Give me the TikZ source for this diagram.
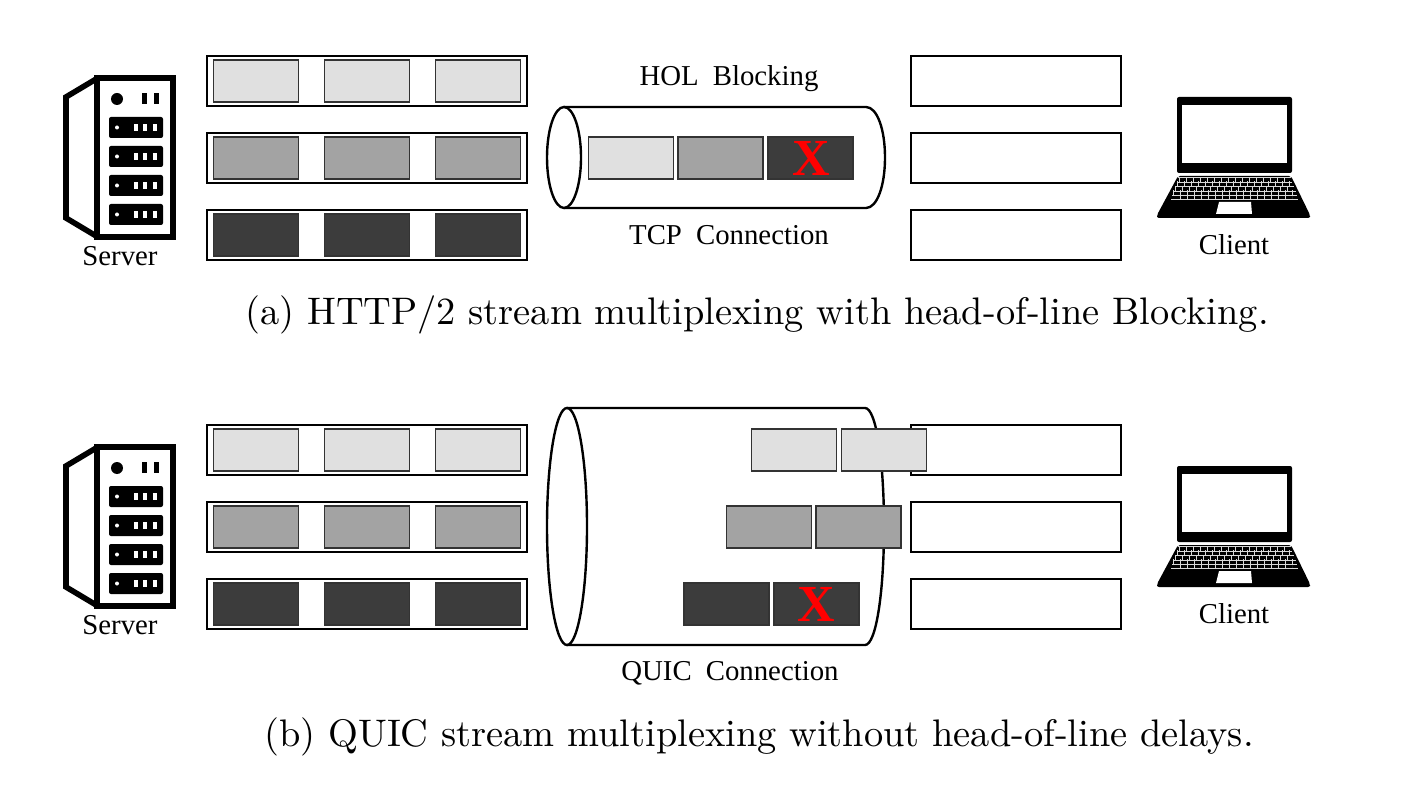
\documentclass[tikz,border=0pt]{standalone}
\usepackage{fontspec}
\newfontfamily\labelfont{Liberation Serif}
\newfontfamily\widelabelfont[WordSpace=1.4]{Liberation Serif}
\newfontfamily\captionfont[Extension=.otf]{lmroman10-regular}
\usepackage{tikz}
\usetikzlibrary{positioning,calc}

\definecolor{lightblock}{HTML}{E0E0E0}
\definecolor{midblock}{HTML}{A3A3A3}
\definecolor{darkblock}{HTML}{3C3C3C}

\tikzset{
  serverpic/.pic={
    \draw[line width=2.8pt,fill=white] (97,78.5) -- (66,97) -- (66,218) -- (97,236.5) ;
    \draw[line width=2.8pt,fill=white] (97,78) rectangle (173,237) ;
    \fill[black] (117,99) circle (3pt) ;
    \fill[black] (142,93) rectangle (147,104) ;
    \fill[black] (154,93) rectangle (159,104) ;
    \fill[black,rounded corners=1pt] (109,117) rectangle (163,138) ;
    \fill[black,rounded corners=1pt] (109,146) rectangle (163,167) ;
    \fill[black,rounded corners=1pt] (109,175) rectangle (163,196) ;
    \fill[black,rounded corners=1pt] (109,204) rectangle (163,225) ;
    \fill[white] (117,127.5) circle (1pt) ;
    \fill[white] (117,156.5) circle (1pt) ;
    \fill[white] (117,185.5) circle (1pt) ;
    \fill[white] (117,214.5) circle (1pt) ;
    \draw[white,line width=3.5pt,dash pattern=on 2pt off 2.7pt] (134,127.5) -- (158,127.5) ;
    \draw[white,line width=3.5pt,dash pattern=on 2pt off 2.7pt] (134,156.5) -- (158,156.5) ;
    \draw[white,line width=3.5pt,dash pattern=on 2pt off 2.7pt] (134,185.5) -- (158,185.5) ;
    \draw[white,line width=3.5pt,dash pattern=on 2pt off 2.7pt] (134,214.5) -- (158,214.5) ;
  },
  laptoppic/.pic={
    \fill[black,rounded corners=1pt] (1177,97) rectangle (1292,173) ;
    \fill[white] (1182,105) rectangle (1287,163) ;
    \fill[black,rounded corners=1pt] (1178,176) -- (1291,176) -- (1310,215) -- (1310,218) -- (1157,218) -- (1157,215) -- cycle ;
    \fill[white] (1219,202) -- (1251,202) -- (1252,214) -- (1216,214) -- cycle ;
    % keyboard rows
    \draw[white!85!black,line width=2.6pt,dash pattern=on .3pt off 3.2pt] (1179,179.5) -- (1289,179.5) ;
    \draw[white!85!black,line width=2.6pt,dash pattern=on .3pt off 3.2pt] (1177,184) -- (1291,184) ;
    \draw[white!85!black,line width=2.6pt,dash pattern=on .3pt off 3.2pt] (1175,188.5) -- (1293,188.5) ;
    \draw[white!85!black,line width=2.6pt,dash pattern=on .3pt off 3.2pt] (1173,193) -- (1295,193) ;
    \draw[white!85!black,line width=2.6pt,dash pattern=on .3pt off 3.2pt] (1180,197.5) -- (1292,197.5) ;
    \draw[white!85!black,line width=.25pt] (1178,177.5) -- (1291,177.5) ;
    \draw[white!85!black,line width=.25pt] (1177,181.8) -- (1292,181.8) ;
    \draw[white!85!black,line width=.25pt] (1175,186.2) -- (1294,186.2) ;
    \draw[white!85!black,line width=.25pt] (1173,190.8) -- (1296,190.8) ;
    \draw[white!85!black,line width=.25pt] (1172,195.2) -- (1297,195.2) ;
    \draw[white!85!black,line width=.25pt] (1171,199.5) -- (1298,199.5) ;
  }
}

\begin{document}
\begin{tikzpicture}[
  x=0.5pt,y=-0.5pt,
  barstyle/.style={rectangle,draw,line width=.55pt,inner sep=0pt,minimum width=160pt,minimum height=25pt},
  emptystyle/.style={rectangle,draw,line width=.55pt,inner sep=0pt,minimum width=105pt,minimum height=25pt},
  blockstyle/.style={rectangle,draw=black!80,line width=.6pt,inner sep=0pt,minimum width=42.5pt,minimum height=21pt},
  lightstyle/.style={blockstyle,fill=lightblock},
  midstyle/.style={blockstyle,fill=midblock},
  darkstyle/.style={blockstyle,fill=darkblock},
  iconlabel/.style={font=\labelfont\fontsize{14.4}{16}\selectfont},
  toplabel/.style={font=\widelabelfont\fontsize{14.4}{16}\selectfont},
  caplabel/.style={font=\captionfont\fontsize{19.2}{22}\selectfont},
  crossmark/.style={font=\labelfont\bfseries\fontsize{26}{26}\selectfont,text=red,inner sep=0pt}
]
\useasboundingbox (0,0) rectangle (1418,796) ;

% upper picture
\pic at (0,0) {serverpic} ;
\pic at (0,0) {laptoppic} ;
\node [iconlabel] (server a) at (120,256) {Server} ;
\node [iconlabel] (client a) at (1234,245) {Client} ;

\node [barstyle] (bar a1) at (367,81) { } ;
\node [barstyle] (bar a2) at (367,158) { } ;
\node [barstyle] (bar a3) at (367,235) { } ;

\node [lightstyle] (a11) at (256,81) { } ;
\node [lightstyle] (a12) at (367,81) { } ;
\node [lightstyle] (a13) at (478,81) { } ;
\node [midstyle] (a21) at (256,158) { } ;
\node [midstyle] (a22) at (367,158) { } ;
\node [midstyle] (a23) at (478,158) { } ;
\node [darkstyle] (a31) at (256,235) { } ;
\node [darkstyle] (a32) at (367,235) { } ;
\node [darkstyle] (a33) at (478,235) { } ;

\node [emptystyle] (out a1) at (1016,81) { } ;
\node [emptystyle] (out a2) at (1016,158) { } ;
\node [emptystyle] (out a3) at (1016,235) { } ;

\draw[line width=1.2pt] (564,157.5) ellipse [x radius=17,y radius=50.5] ;
\draw[line width=1.2pt] (564,107) -- (866,107) .. controls (877,107) and (885,129) .. (885,157.5) .. controls (885,186) and (877,208) .. (866,208) -- (564,208) ;

\node [lightstyle] (tube a1) at (631,158) { } ;
\node [midstyle] (tube a2) at (720.5,158) { } ;
\node [darkstyle] (tube a3) at (810.5,158) { } ;
\node [crossmark] (lost a) at (811,158) {X} ;

\node [toplabel] (hol label) at (729,79) {HOL Blocking} ;
\node [toplabel] (tcp label) at (729,235) {TCP Connection} ;
\node [caplabel] (caption a) at (757,315) {(a) HTTP/2 stream multiplexing with head-of-line Blocking.} ;

% lower picture
\pic at (0,369) {serverpic} ;
\pic at (0,369) {laptoppic} ;
\node [iconlabel] (server b) at (120,625) {Server} ;
\node [iconlabel] (client b) at (1234,614) {Client} ;

\node [barstyle] (bar b1) at (367,450) { } ;
\node [barstyle] (bar b2) at (367,527) { } ;
\node [barstyle] (bar b3) at (367,604) { } ;

\node [lightstyle] (b11) at (256,450) { } ;
\node [lightstyle] (b12) at (367,450) { } ;
\node [lightstyle] (b13) at (478,450) { } ;
\node [midstyle] (b21) at (256,527) { } ;
\node [midstyle] (b22) at (367,527) { } ;
\node [midstyle] (b23) at (478,527) { } ;
\node [darkstyle] (b31) at (256,604) { } ;
\node [darkstyle] (b32) at (367,604) { } ;
\node [darkstyle] (b33) at (478,604) { } ;

\node [emptystyle] (out b1) at (1016,450) { } ;
\node [emptystyle] (out b2) at (1016,527) { } ;
\node [emptystyle] (out b3) at (1016,604) { } ;

\draw[line width=1.2pt] (567,526.5) ellipse [x radius=20,y radius=118.5] ;
\draw[line width=1.2pt] (567,408) -- (865,408) .. controls (876,408) and (884,460) .. (884,526.5) .. controls (884,593) and (876,645) .. (865,645) -- (567,645) ;

\node [lightstyle] (tube b11) at (794,450) { } ;
\node [lightstyle] (tube b12) at (884,450) { } ;
\node [midstyle] (tube b21) at (769,527) { } ;
\node [midstyle] (tube b22) at (858.5,527) { } ;
\node [darkstyle] (tube b31) at (726.5,604) { } ;
\node [darkstyle] (tube b32) at (816.5,604) { } ;
\node [crossmark] (lost b) at (816,604) {X} ;

\node [toplabel] (quic label) at (730,673) {QUIC Connection} ;
\node [caplabel] (caption b) at (759,737) {(b) QUIC stream multiplexing without head-of-line delays.} ;

\end{tikzpicture}
\end{document}
